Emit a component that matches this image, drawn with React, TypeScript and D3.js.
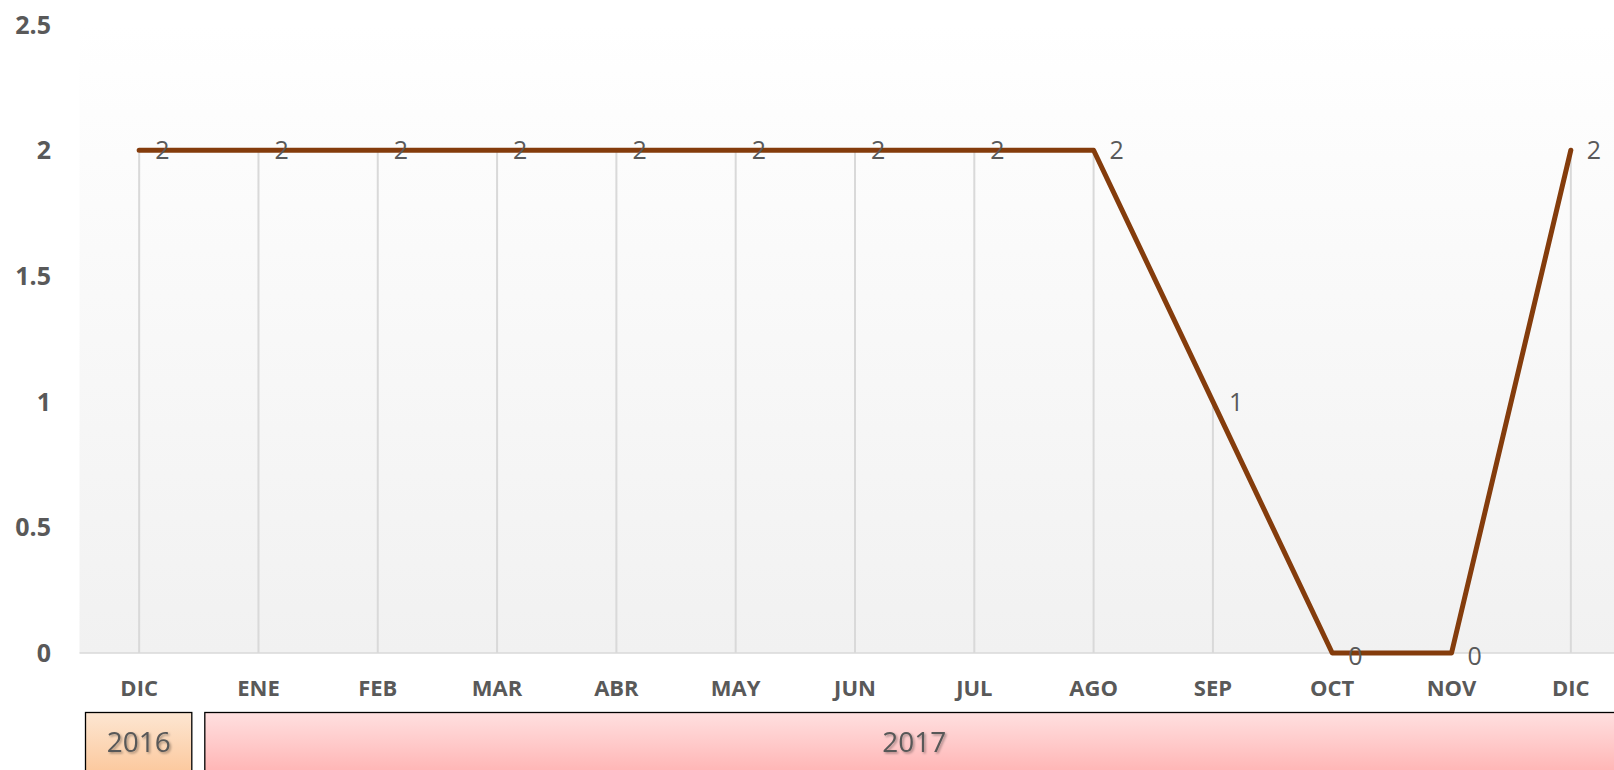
import { useEffect, useRef } from "react";
import * as d3 from "d3";

const months = ["DIC", "ENE", "FEB", "MAR", "ABR", "MAY", "JUN", "JUL", "AGO", "SEP", "OCT", "NOV", "DIC"];
const monthYears = ["2016", "2017", "2017", "2017", "2017", "2017", "2017", "2017", "2017", "2017", "2017", "2017", "2017"];
const values = [2, 2, 2, 2, 2, 2, 2, 2, 2, 1, 0, 0, 2];
const yTicks = [0, 0.5, 1, 1.5, 2, 2.5];
const years = ["2016", "2017"];
const yearFills = [
  ["#fde6d2", "#fbbf8c"],
  ["#ffe0e0", "#ffa6a6"],
];

const LineChart = () => {
  const svgRef = useRef<SVGSVGElement | null>(null);

  useEffect(() => {
    if (!svgRef.current) return;
    const svg = d3.select(svgRef.current);
    svg.selectAll("*").remove();

    const W = 1614;
    const H = 770;
    svg.attr("width", W).attr("height", H);

    const idx = months.map((_, i) => i);
    const x = d3.scaleBand<number>().domain(idx).range([79.5, 1630.5]).padding(0);
    const cx = (i: number) => (x(i) as number) + x.bandwidth() / 2;
    const y = d3.scaleLinear().domain([0, 2.5]).range([653, 24.5]);

    const defs = svg.append("defs");
    const bg = defs.append("linearGradient").attr("id", "plotbg").attr("x1", 0).attr("y1", 0).attr("x2", 0).attr("y2", 1);
    bg.append("stop").attr("offset", "0%").attr("stop-color", "#ffffff");
    bg.append("stop").attr("offset", "100%").attr("stop-color", "#f1f1f1");

    yearFills.forEach((f, i) => {
      const g = defs.append("linearGradient").attr("id", `yr${i}`).attr("x1", 0).attr("y1", 0).attr("x2", 0).attr("y2", 1);
      g.append("stop").attr("offset", "0%").attr("stop-color", f[0]);
      g.append("stop").attr("offset", "100%").attr("stop-color", f[1]);
    });

    const shadow = defs.append("filter").attr("id", "tshadow").attr("x", "-20%").attr("y", "-20%").attr("width", "140%").attr("height", "140%");
    shadow
      .append("feDropShadow")
      .attr("dx", 1.5)
      .attr("dy", 1.5)
      .attr("stdDeviation", 1.2)
      .attr("flood-color", "#000")
      .attr("flood-opacity", 0.35);

    // plot area background
    svg
      .append("rect")
      .attr("x", 79.5)
      .attr("y", y(2.5))
      .attr("width", W - 79.5)
      .attr("height", y(0) - y(2.5))
      .attr("fill", "url(#plotbg)");

    // drop lines
    svg
      .append("g")
      .selectAll("line")
      .data(values)
      .join("line")
      .attr("x1", (_, i) => cx(i))
      .attr("x2", (_, i) => cx(i))
      .attr("y1", (d) => y(d))
      .attr("y2", y(0))
      .attr("stroke", "#d9d9d9")
      .attr("stroke-width", 2);

    // x axis line
    svg
      .append("line")
      .attr("x1", 79.5)
      .attr("x2", W)
      .attr("y1", y(0))
      .attr("y2", y(0))
      .attr("stroke", "#d9d9d9")
      .attr("stroke-width", 1.5);

    // y tick labels
    svg
      .append("g")
      .selectAll("text")
      .data(yTicks)
      .join("text")
      .attr("x", 51)
      .attr("y", (d) => y(d))
      .attr("dy", "0.36em")
      .attr("text-anchor", "end")
      .attr("font-family", "'Open Sans', sans-serif")
      .attr("font-weight", 700)
      .attr("font-size", 25)
      .attr("fill", "#595959")
      .text((d) => String(d));

    // month labels
    svg
      .append("g")
      .selectAll("text")
      .data(months)
      .join("text")
      .attr("x", (_, i) => cx(i))
      .attr("y", 688)
      .attr("dy", "0.36em")
      .attr("text-anchor", "middle")
      .attr("font-family", "'Open Sans', sans-serif")
      .attr("font-weight", 700)
      .attr("font-size", 22)
      .attr("fill", "#595959")
      .text((d) => d);

    // year boxes
    years.forEach((yr, k) => {
      const members = idx.filter((i) => monthYears[i] === yr);
      const x0 = (x(members[0]) as number) + 6;
      const x1 = (x(members[members.length - 1]) as number) + x.bandwidth() - 7;
      svg
        .append("rect")
        .attr("x", x0)
        .attr("y", 712.5)
        .attr("width", x1 - x0)
        .attr("height", 80)
        .attr("fill", `url(#yr${k})`)
        .attr("stroke", "#000")
        .attr("stroke-width", 1.3);
      svg
        .append("text")
        .attr("x", (x0 + x1) / 2)
        .attr("y", 742)
        .attr("dy", "0.36em")
        .attr("text-anchor", "middle")
        .attr("font-family", "'Open Sans', sans-serif")
        .attr("font-size", 28)
        .attr("fill", "#595959")
        .attr("filter", "url(#tshadow)")
        .text(yr);
    });

    // series line
    const line = d3
      .line<number>()
      .x((_, i) => cx(i))
      .y((d) => y(d));
    svg
      .append("path")
      .datum(values)
      .attr("d", line)
      .attr("fill", "none")
      .attr("stroke", "#843c0c")
      .attr("stroke-width", 5)
      .attr("stroke-linejoin", "round")
      .attr("stroke-linecap", "round");

    // data labels
    svg
      .append("g")
      .selectAll("text")
      .data(values)
      .join("text")
      .attr("x", (_, i) => cx(i) + 16)
      .attr("y", (d) => y(d) + (d === 0 ? 3 : 0))
      .attr("dy", "0.36em")
      .attr("font-family", "'Open Sans', sans-serif")
      .attr("font-size", 25)
      .attr("fill", "#595959")
      .text((d) => String(d));
  }, []);

  return <svg ref={svgRef} style={{ display: "block" }}></svg>;
};

export default function App() {
  return (
    <div style={{ position: "fixed", left: 0, top: 0, width: 1614, height: 770, overflow: "hidden", background: "#fff" }}>
      <LineChart />
    </div>
  );
}
